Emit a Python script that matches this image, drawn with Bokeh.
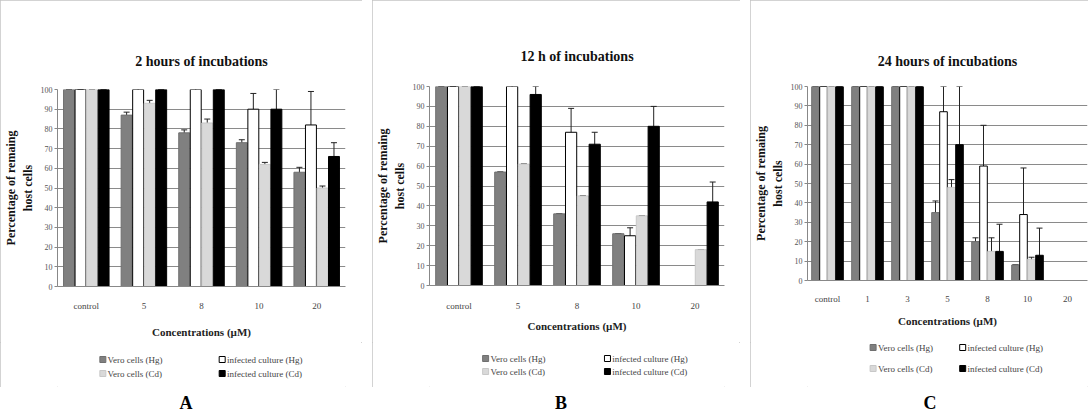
from bokeh.plotting import figure
from bokeh.models import ColumnDataSource, FactorRange, Whisker, Title, Div, Range1d, FixedTicker
from bokeh.core.properties import value
from bokeh.transform import dodge
from bokeh.layouts import row, column
from bokeh.embed import file_html
from bokeh.resources import INLINE

series = ["Vero cells (Hg)", "infected culture (Hg)", "Vero cells (Cd)", "infected culture (Cd)"]
fill_colors = ["#808080", "#ffffff", "#d9d9d9", "#000000"]
line_colors = ["#6f6f6f", "#000000", "#c8c8c8", "#000000"]
y_ticks = [0, 10, 20, 30, 40, 50, 60, 70, 80, 90, 100]

# Panel A: 2 hours
cats_a = ["control", "5", "8", "10", "20"]
a_vero_hg = [100, 87, 78, 73, 58]
a_vero_hg_err = [0, 1.5, 1.5, 1.5, 2.5]
a_inf_hg = [100, 100, 100, 90, 82]
a_inf_hg_err = [0, 4, 2.5, 8, 17]
a_vero_cd = [100, 93, 83, 62, 50]
a_vero_cd_err = [0, 1.5, 2, 1, 1]
a_inf_cd = [100, 100, 100, 90, 66]
a_inf_cd_err = [0, 0, 0, 10, 7]

# Panel B: 12 h
cats_b = ["control", "5", "8", "10", "20"]
b_vero_hg = [100, 57, 36, 26, 0]
b_vero_hg_err = [0, 0, 0, 0, 0]
b_inf_hg = [100, 100, 77, 25, 0]
b_inf_hg_err = [0, 12, 12, 4, 0]
b_vero_cd = [100, 61, 45, 35, 18]
b_vero_cd_err = [0, 0, 0, 0, 0]
b_inf_cd = [100, 96, 71, 80, 42]
b_inf_cd_err = [0, 4, 6, 10, 10]

# Panel C: 24 hours
cats_c = ["control", "1", "3", "5", "8", "10", "20"]
c_vero_hg = [100, 100, 100, 35, 20, 8, 0]
c_vero_hg_err = [0, 0, 0, 6, 2, 0, 0]
c_inf_hg = [100, 100, 100, 87, 59, 34, 0]
c_inf_hg_err = [0, 0, 0, 13, 21, 24, 0]
c_vero_cd = [100, 100, 100, 48, 15, 11, 0]
c_vero_cd_err = [0, 0, 0, 4, 7, 1, 0]
c_inf_cd = [100, 100, 100, 70, 15, 13, 0]
c_inf_cd_err = [0, 0, 0, 30, 14, 14, 0]

FONT = "Liberation Serif"
offsets = [-0.3, -0.1, 0.1, 0.3]
CHART_H = 342
LEG_H = 45


def make_chart(title, cats, vals, errs, width, mb_left, mb_right, mb_top, mb_bottom,
               title_standoff, tick_standoff, label_standoff):
    p = figure(x_range=FactorRange(*cats), y_range=Range1d(0, 100), width=width, height=CHART_H,
               output_backend="svg", toolbar_location=None,
               min_border_left=mb_left, min_border_right=mb_right,
               min_border_top=mb_top, min_border_bottom=mb_bottom)
    p.title = Title(text=title, align="center", text_font=FONT, text_font_size="14px",
                    text_font_style="bold", text_color="#111111", standoff=title_standoff)
    for i in range(4):
        up = [v + e for v, e in zip(vals[i], errs[i])]
        lo = [max(v - e, 0) for v, e in zip(vals[i], errs[i])]
        src = ColumnDataSource(dict(cat=cats, val=vals[i], up=up, lo=lo))
        p.vbar(x=dodge("cat", offsets[i], range=p.x_range), top="val", width=0.19, source=src,
               fill_color=fill_colors[i], line_color=line_colors[i], line_width=1)
        w = Whisker(base=dodge("cat", offsets[i], range=p.x_range), upper="up", lower="lo", source=src,
                    line_color="#222222", line_width=1)
        w.upper_head.size = 6
        w.lower_head.size = 6
        w.upper_head.line_color = "#222222"
        w.lower_head.line_color = "#222222"
        p.add_layout(w)

    p.yaxis.ticker = FixedTicker(ticks=y_ticks)
    p.yaxis.axis_label = "Percentage of remaing\nhost cells"
    p.yaxis.axis_label_text_font = FONT
    p.yaxis.axis_label_text_font_style = "bold"
    p.yaxis.axis_label_text_font_size = "12px"
    p.yaxis.axis_label_text_color = "#111111"
    p.yaxis.axis_label_standoff = 3
    p.yaxis.major_label_text_font = FONT
    p.yaxis.major_label_text_font_size = "8px"
    p.yaxis.major_label_text_color = "#555555"
    p.yaxis.major_label_standoff = 2
    p.yaxis.major_tick_line_color = "#888888"
    p.yaxis.major_tick_out = 3
    p.yaxis.major_tick_in = 0
    p.yaxis.minor_tick_line_color = None
    p.yaxis.axis_line_color = "#888888"

    p.xaxis.axis_label = "Concentrations (µM)"
    p.xaxis.axis_label_text_font = FONT
    p.xaxis.axis_label_text_font_style = "bold"
    p.xaxis.axis_label_text_font_size = "11px"
    p.xaxis.axis_label_text_color = "#222222"
    p.xaxis.axis_label_standoff = label_standoff
    p.xaxis.major_label_text_font = FONT
    p.xaxis.major_label_text_font_size = "9px"
    p.xaxis.major_label_text_color = "#444444"
    p.xaxis.major_label_standoff = tick_standoff
    p.xaxis.major_tick_line_color = None
    p.xaxis.major_tick_out = 0
    p.xaxis.major_tick_in = 0
    p.xaxis.axis_line_color = "#888888"

    p.xgrid.grid_line_color = None
    p.ygrid.grid_line_color = "#8a8a8a"
    p.ygrid.grid_line_width = 1
    p.ygrid.ticker = FixedTicker(ticks=y_ticks)
    p.outline_line_color = None
    p.background_fill_color = "#ffffff"
    return p


def make_legend(width, col_x, row_y):
    lg = figure(width=width, height=LEG_H, x_range=Range1d(0, width), y_range=Range1d(0, LEG_H),
                output_backend="svg", toolbar_location=None,
                min_border_left=0, min_border_right=0, min_border_top=0, min_border_bottom=0)
    lg.axis.visible = False
    lg.grid.grid_line_color = None
    lg.outline_line_color = None
    xs = [col_x[0], col_x[1], col_x[0], col_x[1]]
    ys = [row_y[0], row_y[0], row_y[1], row_y[1]]
    src = ColumnDataSource(dict(x=xs, y=ys, tx=[x + 6 for x in xs], label=series,
                                fill=fill_colors, line=["#6f6f6f", "#000000", "#c8c8c8", "#000000"]))
    lg.scatter(x="x", y="y", marker="square", size=6, fill_color="fill", line_color="line", source=src)
    lg.text(x="tx", y="y", text="label", source=src, text_font=value(FONT), text_font_size="9px",
            text_baseline="middle", text_color="#444444")
    return lg


def panel(chart, leg, letter_text, width):
    box = column(chart, leg, spacing=0,
                 styles={"outline": "1px solid #c4c4c4", "outline-offset": "-1px"})
    letter = Div(text=letter_text, width=width, height=25,
                 styles={"text-align": "center", "font-family": FONT, "font-weight": "bold",
                         "font-size": "18px", "line-height": "22px"})
    return column(box, letter, spacing=0)


WA, WB, WC = 362, 368, 350

pa = make_chart("2 hours of incubations", cats_a,
                [a_vero_hg, a_inf_hg, a_vero_cd, a_inf_cd],
                [a_vero_hg_err, a_inf_hg_err, a_vero_cd_err, a_inf_cd_err],
                WA, 54, 17, 89, 56, 42, 14, 12)
pb = make_chart("12 h of incubations", cats_b,
                [b_vero_hg, b_inf_hg, b_vero_cd, b_inf_cd],
                [b_vero_hg_err, b_inf_hg_err, b_vero_cd_err, b_inf_cd_err],
                WB, 53, 16, 86, 57, 45, 15, 6)
pc = make_chart("24 hours of incubations", cats_c,
                [c_vero_hg, c_inf_hg, c_vero_cd, c_inf_cd],
                [c_vero_hg_err, c_inf_hg_err, c_vero_cd_err, c_inf_cd_err],
                WC, 57, 13, 86, 62, 35, 13, 8)

la = make_legend(WA, [57, 207], [28, 14])
lb = make_legend(WB, [70, 222], [29, 16])
lc = make_legend(WC, [82, 194], [40, 19])

layout = row(panel(pa, la, "A", WA), panel(pb, lb, "B", WB), panel(pc, lc, "C", WC), spacing=0)

open("out.html", "w").write(file_html(layout, INLINE))
